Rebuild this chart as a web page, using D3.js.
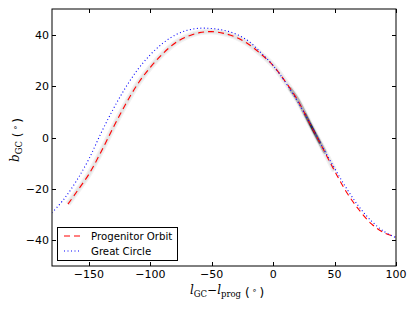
<!DOCTYPE html>
<html><head><meta charset="utf-8">
<script src="https://cdn.jsdelivr.net/npm/d3@7"></script>
<style>body{margin:0;background:#fff}svg{display:block}</style>
</head><body>
<script>
const orbitX = [-167,-160,-150,-140,-130,-120,-110,-100,-90,-80,-70,-60,-50,-40,-30,-20,-10,0,10,20,30,40,50,60,70,80,90,100];
const orbitY = [-25.9,-21.2,-14.3,-5.5,4,13,21,27.3,32.5,36.7,39.3,40.8,41.2,40.5,39,36.3,32.5,28,21.7,14.5,5.3,-3.8,-13,-21.5,-28.2,-33.6,-37,-38.7];
const gcX = [-180,-170,-160,-150,-140,-130,-120,-110,-100,-90,-80,-70,-60,-50,-40,-30,-20,-10,0,10,20,30,40,50,60,70,80,90,100];
const gcY = [-29.3,-23.8,-16.8,-8.4,1.8,11.2,19.5,26.6,32.2,36.6,39.8,41.7,42.5,42.4,41.7,40.2,37.5,33,28,21.5,14,5.5,-3.5,-12,-20,-27,-32.5,-36.5,-39];
const streamX = [14,20,26,30,34,38,42];
const streamY = [18.8,14.6,9.1,5.3,1.6,-2,-5.6];
const xTicks = [-150,-100,-50,0,50,100];
const yTicks = [-40,-20,0,20,40];
const legendLabels = ["Progenitor Orbit","Great Circle"];

const W=415,H=312, L=52,R=396,T=9,B=266;
const svg=d3.select("body").append("svg").attr("width",W).attr("height",H);
const x=d3.scaleLinear().domain([-180,100]).range([L,R]);
const y=d3.scaleLinear().domain([-50,50]).range([B,T]);
svg.append("defs").append("clipPath").attr("id","c").append("rect").attr("x",L).attr("y",T).attr("width",R-L).attr("height",B-T);
const g=svg.append("g").attr("clip-path","url(#c)");
const line=d3.line().x(d=>x(d[0])).y(d=>y(d[1])).curve(d3.curveCatmullRom.alpha(0.5));
const orbit=orbitX.map((v,i)=>[v,orbitY[i]]);
const gc=gcX.map((v,i)=>[v,gcY[i]]);
const stream=streamX.map((v,i)=>[v,streamY[i]]);
// faint stream band
const band=orbit.filter(d=>d[0]<=50);
g.append("path").datum(band).attr("d",line).attr("fill","none").attr("stroke","#000").attr("stroke-opacity",0.05).attr("stroke-width",6);
g.append("path").datum(band).attr("d",line).attr("fill","none").attr("stroke","#000").attr("stroke-opacity",0.05).attr("stroke-width",3.5);
// dense stream cluster
g.append("path").datum(stream).attr("d",line).attr("fill","none").attr("stroke","#000").attr("stroke-opacity",0.22).attr("stroke-width",4).attr("stroke-linecap","round");
g.append("path").datum(stream.slice(2,6)).attr("d",line).attr("fill","none").attr("stroke","#000").attr("stroke-opacity",0.45).attr("stroke-width",2.5).attr("stroke-linecap","round");
g.append("path").datum(stream.slice(3,5)).attr("d",line).attr("fill","none").attr("stroke","#000").attr("stroke-opacity",0.5).attr("stroke-width",2).attr("stroke-linecap","round");
g.append("path").datum(orbit).attr("d",line).attr("fill","none").attr("stroke","#ff0000").attr("stroke-width",1.1).attr("stroke-dasharray","6,4");
g.append("path").datum(gc).attr("d",line).attr("fill","none").attr("stroke","#0000ff").attr("stroke-width",1.1).attr("stroke-dasharray","1,2.5");

// frame
svg.append("rect").attr("x",L).attr("y",T).attr("width",R-L).attr("height",B-T).attr("fill","none").attr("stroke","#000").attr("stroke-width",1);
const tl=4;
const font="DejaVu Sans, sans-serif";
xTicks.forEach(t=>{
  const px=Math.round(x(t))+0.5;
  svg.append("line").attr("x1",px).attr("x2",px).attr("y1",B).attr("y2",B-tl).attr("stroke","#000");
  svg.append("line").attr("x1",px).attr("x2",px).attr("y1",T).attr("y2",T+tl).attr("stroke","#000");
  svg.append("text").attr("x",x(t)).attr("y",278).attr("text-anchor","middle").attr("font-family",font).attr("font-size",11).text(d3.format("")(t).replace("-","\u2212"));
});
yTicks.forEach(t=>{
  const py=Math.round(y(t))+0.5;
  svg.append("line").attr("y1",py).attr("y2",py).attr("x1",L).attr("x2",L+tl).attr("stroke","#000");
  svg.append("line").attr("y1",py).attr("y2",py).attr("x1",R).attr("x2",R-tl).attr("stroke","#000");
  svg.append("text").attr("x",49).attr("y",y(t)+4).attr("text-anchor","end").attr("font-family",font).attr("font-size",11).text(d3.format("")(t).replace("-","\u2212"));
});
const serif="DejaVu Serif, serif";
function degree(sel){
  sel.append("tspan").attr("font-family",font).text(" (\u2009");
  sel.append("tspan").attr("font-family",font).attr("font-size",8).attr("dy",-3.5).text("\u2218");
  sel.append("tspan").attr("font-family",font).attr("dy",3.5).text("\u2009)");
}
// x label
const xl=svg.append("text").attr("x",227).attr("y",294).attr("text-anchor","middle").attr("font-size",12);
xl.append("tspan").attr("font-family",serif).attr("font-style","italic").text("l");
xl.append("tspan").attr("font-family",serif).attr("font-size",8.5).attr("dy",2.5).text("GC");
xl.append("tspan").attr("font-family",serif).attr("dy",-2.5).text("\u2212");
xl.append("tspan").attr("font-family",serif).attr("font-style","italic").text("l");
xl.append("tspan").attr("font-family",serif).attr("font-size",8.5).attr("dy",2.5).text("prog");
xl.append("tspan").attr("dy",-2.5).text("");
degree(xl);
// y label
const yl=svg.append("text").attr("transform",`translate(19,140) rotate(-90)`).attr("text-anchor","middle").attr("font-size",12);
yl.append("tspan").attr("font-family",serif).attr("font-style","italic").text("b");
yl.append("tspan").attr("font-family",serif).attr("font-size",8.5).attr("dy",2.5).text("GC");
yl.append("tspan").attr("dy",-2.5).text("");
degree(yl);
// legend
svg.append("rect").attr("x",57.5).attr("y",227.5).attr("width",120).attr("height",33).attr("fill","#fff").attr("stroke","#000").attr("stroke-width",1);
const styles=[{c:"#ff0000",d:"6,4"},{c:"#0000ff",d:"1,2.5"}];
legendLabels.forEach((lab,i)=>{
  const yy=236+i*15;
  svg.append("line").attr("x1",64).attr("x2",80).attr("y1",yy).attr("y2",yy).attr("stroke",styles[i].c).attr("stroke-width",1.1).attr("stroke-dasharray",styles[i].d);
  svg.append("text").attr("x",91).attr("y",yy+3.7).attr("font-family",font).attr("font-size",10.2).text(lab);
});
</script>
</body></html>
